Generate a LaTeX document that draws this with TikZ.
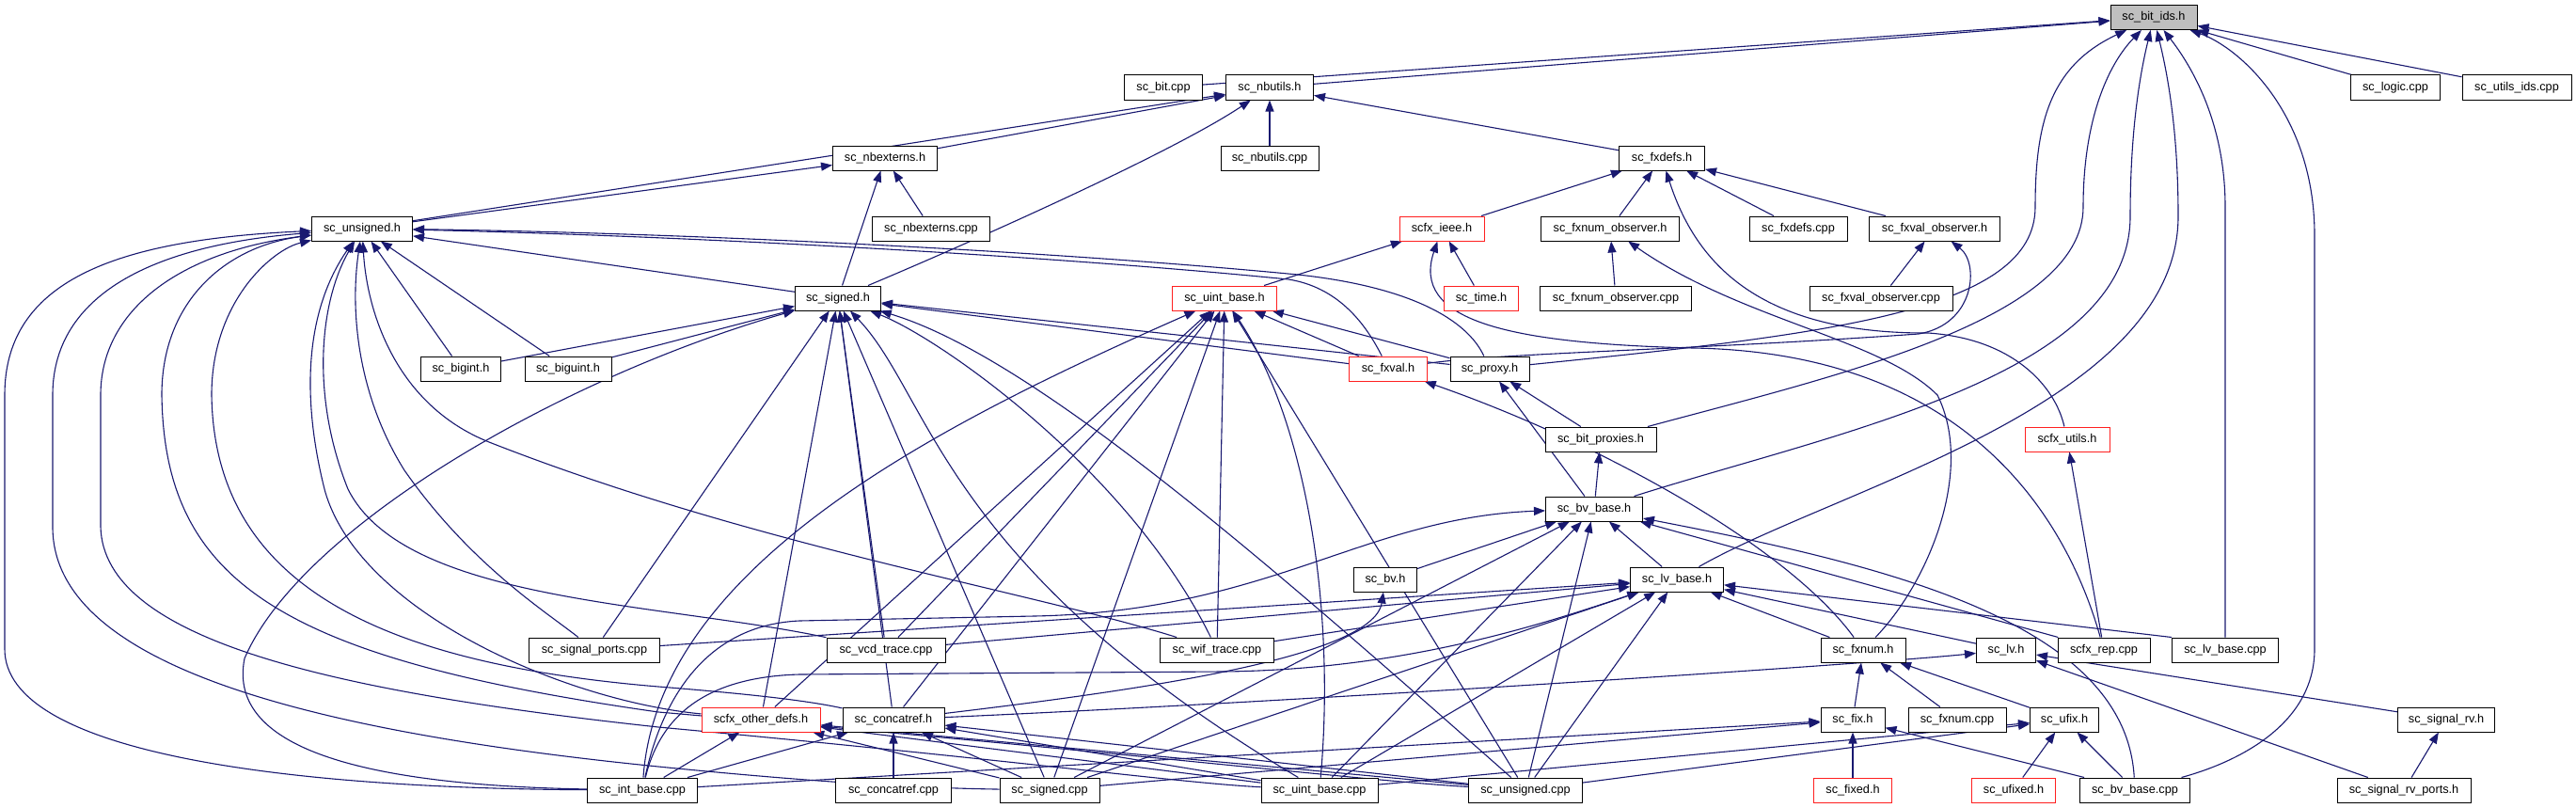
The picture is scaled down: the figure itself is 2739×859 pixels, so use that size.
\documentclass[tikz,border=0pt]{standalone}
\usepackage{fontspec}
\setmainfont{Liberation Sans}
\usetikzlibrary{arrows.meta}
\definecolor{edgeblue}{HTML}{191970}
\definecolor{boxred}{HTML}{FF2020}
\definecolor{rootgray}{HTML}{BFBFBF}
\pgfdeclarelayer{back}
\pgfdeclarelayer{bg}
\pgfsetlayers{back,bg,main}
\newcommand{\mknode}[6][box]{\node[#1, minimum width=#5] (#2) at (#3,-#4) {#6};}
\tikzset{
  box/.style={draw=black, line width=1pt, fill=white, minimum height=26, inner sep=0pt,
              font=\fontsize{12.7}{15}\selectfont},
  redbox/.style={box, draw=boxred},
  rootbox/.style={box, fill=rootgray},
  e/.style={draw=edgeblue, line width=1.1pt, {Triangle[length=12pt,width=9pt]}-},
}
\begin{document}
\begin{tikzpicture}[x=1pt,y=1pt]
\begin{pgfonlayer}{back}
\fill[white] (0,0) rectangle (2739,-859);
\end{pgfonlayer}
\useasboundingbox (0,0) rectangle (2739,-859);
% ---------------- nodes
\mknode[rootbox]{root}{2290}{18.5}{92}{sc\_bit\_ids.h}
\mknode{bitcpp}{1237}{93}{83}{sc\_bit.cpp}
\mknode{nbutilsh}{1350}{93}{93}{sc\_nbutils.h}
\mknode{logiccpp}{2547}{93}{95}{sc\_logic.cpp}
\mknode{utilsids}{2676}{93}{116}{sc\_utils\_ids.cpp}
\mknode{nbexternsh}{941}{168}{111}{sc\_nbexterns.h}
\mknode{nbutilscpp}{1350}{168}{104}{sc\_nbutils.cpp}
\mknode{fxdefsh}{1767}{168}{91}{sc\_fxdefs.h}
\mknode{unsignedh}{385}{243}{107}{sc\_unsigned.h}
\mknode{nbexternscpp}{990}{243}{125}{sc\_nbexterns.cpp}
\mknode[redbox]{scfxieee}{1533}{243}{90}{scfx\_ieee.h}
\mknode{fxnumobsh}{1712}{243}{147}{sc\_fxnum\_observer.h}
\mknode{fxdefscpp}{1912}{243}{104}{sc\_fxdefs.cpp}
\mknode{fxvalobsh}{2057}{243}{139}{sc\_fxval\_observer.h}
\mknode{signedh}{891}{317}{91}{sc\_signed.h}
\mknode[redbox]{uintbaseh}{1302}{317}{111}{sc\_uint\_base.h}
\mknode[redbox]{timeh}{1575}{317}{79}{sc\_time.h}
\mknode{fxnumobscpp}{1718}{317}{161}{sc\_fxnum\_observer.cpp}
\mknode{fxvalobscpp}{2000}{317}{152}{sc\_fxval\_observer.cpp}
\mknode{bigint}{490}{392}{85}{sc\_bigint.h}
\mknode{biguint}{604}{392}{92}{sc\_biguint.h}
\mknode[redbox]{fxvalh}{1476}{392}{83}{sc\_fxval.h}
\mknode{proxyh}{1584}{392}{84}{sc\_proxy.h}
\mknode{bitproxies}{1702}{467}{118}{sc\_bit\_proxies.h}
\mknode[redbox]{scfxutils}{2198}{467}{90}{scfx\_utils.h}
\mknode{bvbaseh}{1695}{541}{103}{sc\_bv\_base.h}
\mknode{bvh}{1473}{616}{67}{sc\_bv.h}
\mknode{lvbaseh}{1783}{616}{99}{sc\_lv\_base.h}
\mknode{signalports}{632}{691}{139}{sc\_signal\_ports.cpp}
\mknode{vcd}{942}{691}{126}{sc\_vcd\_trace.cpp}
\mknode{wif}{1294}{691}{121}{sc\_wif\_trace.cpp}
\mknode{fxnumh}{1981}{691}{90}{sc\_fxnum.h}
\mknode{lvh}{2133}{691}{63}{sc\_lv.h}
\mknode{scfxrep}{2237}{691}{98}{scfx\_rep.cpp}
\mknode{lvbasecpp}{2366}{691}{113}{sc\_lv\_base.cpp}
\mknode[redbox]{otherdefs}{809}{765}{126}{scfx\_other\_defs.h}
\mknode{concatrefh}{950}{765}{108}{sc\_concatref.h}
\mknode{fixh}{1970}{765}{68}{sc\_fix.h}
\mknode{fxnumcpp}{2081}{765}{104}{sc\_fxnum.cpp}
\mknode{ufixh}{2195}{765}{73}{sc\_ufix.h}
\mknode{signalrvh}{2601}{765}{103}{sc\_signal\_rv.h}
\mknode{intbasecpp}{683}{840}{117}{sc\_int\_base.cpp}
\mknode{concatrefcpp}{950}{840}{123}{sc\_concatref.cpp}
\mknode{signedcpp}{1116}{840}{106}{sc\_signed.cpp}
\mknode{uintbasecpp}{1403}{840}{124}{sc\_uint\_base.cpp}
\mknode{unsignedcpp}{1622}{840}{121}{sc\_unsigned.cpp}
\mknode[redbox]{fixedh}{1970}{840}{83}{sc\_fixed.h}
\mknode[redbox]{ufixedh}{2141}{840}{89}{sc\_ufixed.h}
\mknode{bvbasecpp}{2270}{840}{117}{sc\_bv\_base.cpp}
\mknode{signalrvports}{2556}{840}{142}{sc\_signal\_rv\_ports.h}
% ---------------- edges
\begin{pgfonlayer}{bg}
% sc_bit_ids.h
\draw[e] (root) -- (bitcpp);
\draw[e] (root) -- (nbutilsh);
\draw[e] (root) -- (logiccpp);
\draw[e] (root) -- (utilsids);
\draw[e] (root) .. controls (2180,-70) and (2164,-130) .. (2164,-220) .. controls (2164,-330) and (1950,-355) .. (proxyh);
\draw[e] (root) .. controls (2240,-70) and (2215,-130) .. (2215,-220) .. controls (2215,-340) and (1950,-400) .. (bitproxies);
\draw[e] (root) .. controls (2275,-80) and (2265,-140) .. (2265,-230) .. controls (2265,-400) and (1950,-460) .. (bvbaseh);
\draw[e] (root) .. controls (2305,-80) and (2316,-140) .. (2316,-230) .. controls (2316,-430) and (1950,-520) .. (lvbaseh);
\draw[e] (root) .. controls (2330,-70) and (2366,-130) .. (2366,-220) -- (lvbasecpp);
\draw[e] (root) .. controls (2380,-50) and (2461,-120) .. (2461,-250) -- (2461,-690) .. controls (2461,-770) and (2380,-810) .. (bvbasecpp);
% sc_nbutils.h
\draw[e] (nbutilsh) -- (nbexternsh);
\draw[e] (nbutilsh) -- (nbutilscpp);
\draw[e] (nbutilsh) -- (fxdefsh);
\draw[e] (nbutilsh) -- (unsignedh);
\draw[e] (nbutilsh) .. controls (1250,-160) and (1050,-250) .. (signedh);
% sc_nbexterns.h
\draw[e] (nbexternsh) -- (unsignedh);
\draw[e] (nbexternsh) -- (signedh);
\draw[e] (nbexternsh) -- (nbexternscpp);
% sc_fxdefs.h
\draw[e] (fxdefsh) -- (scfxieee);
\draw[e] (fxdefsh) -- (fxnumobsh);
\draw[e] (fxdefsh) -- (fxdefscpp);
\draw[e] (fxdefsh) -- (fxvalobsh);
\draw[e] (fxdefsh) .. controls (1800,-270) and (1860,-355) .. (2050,-354) .. controls (2140,-360) and (2185,-410) .. (scfxutils);
% scfx_ieee.h
\draw[e] (scfxieee) -- (uintbaseh);
\draw[e] (scfxieee) -- (timeh);
\draw[e] (scfxieee) .. controls (1500,-340) and (1600,-365) .. (1800,-370) .. controls (2100,-375) and (2200,-560) .. (scfxrep);
% observers
\draw[e] (fxnumobsh) -- (fxnumobscpp);
\draw[e] (fxnumobsh) .. controls (1850,-340) and (2000,-360) .. (2060,-420) .. controls (2100,-500) and (2050,-620) .. (fxnumh);
\draw[e] (fxvalobsh) -- (fxvalobscpp);
\draw[e] (fxvalobsh) .. controls (2105,-280) and (2100,-345) .. (2040,-355) .. controls (1800,-372) and (1600,-375) .. (fxvalh);
% sc_unsigned.h
\draw[e] (unsignedh) -- (signedh);
\draw[e] (unsignedh) -- (bigint);
\draw[e] (unsignedh) -- (biguint);
\draw[e] (unsignedh) .. controls (700,-250) and (1100,-270) .. (1370,-297) .. controls (1420,-305) and (1450,-340) .. (fxvalh);
\draw[e] (unsignedh) .. controls (700,-247) and (1100,-265) .. (1380,-292) .. controls (1500,-305) and (1560,-340) .. (proxyh);
\draw[e] (unsignedh) .. controls (120,-255) and (5,-300) .. (5,-420) -- (5,-690) .. controls (5,-800) and (300,-838) .. (intbasecpp);
\draw[e] (unsignedh) .. controls (150,-262) and (56,-320) .. (56,-420) -- (56,-560) .. controls (56,-700) and (300,-775) .. (700,-815) .. controls (900,-835) and (1000,-838) .. (signedcpp);
\draw[e] (unsignedh) .. controls (190,-268) and (107,-330) .. (107,-420) -- (107,-560) .. controls (110,-680) and (350,-735) .. (700,-773) .. controls (1100,-810) and (1250,-832) .. (uintbasecpp);
\draw[e] (unsignedh) .. controls (240,-262) and (172,-320) .. (172,-420) .. controls (175,-620) and (300,-700) .. (700,-757) .. controls (1200,-800) and (1450,-830) .. (unsignedcpp);
\draw[e] (unsignedh) .. controls (290,-265) and (225,-320) .. (225,-420) .. controls (228,-620) and (400,-705) .. (700,-730) .. controls (800,-738) and (860,-745) .. (concatrefh);
\draw[e] (unsignedh) .. controls (325,-330) and (320,-420) .. (345,-520) .. controls (380,-650) and (600,-745) .. (otherdefs);
\draw[e] (unsignedh) .. controls (340,-320) and (330,-420) .. (370,-520) .. controls (430,-640) and (700,-640) .. (vcd);
\draw[e] (unsignedh) .. controls (372,-330) and (380,-420) .. (430,-500) .. controls (500,-600) and (580,-650) .. (signalports);
\draw[e] (unsignedh) .. controls (390,-330) and (420,-430) .. (520,-470) .. controls (800,-580) and (1100,-630) .. (wif);
% sc_signed.h
\draw[e] (signedh) -- (bigint);
\draw[e] (signedh) -- (biguint);
\draw[e] (signedh) -- (fxvalh);
\draw[e] (signedh) -- (proxyh);
\draw[e] (signedh) -- (signalports);
\draw[e] (signedh) -- (vcd);
\draw[e] (signedh) .. controls (1000,-360) and (1200,-500) .. (wif);
\draw[e] (signedh) -- (otherdefs);
\draw[e] (signedh) -- (concatrefh);
\draw[e] (signedh) .. controls (600,-400) and (320,-560) .. (260,-700) .. controls (240,-800) and (400,-835) .. (intbasecpp);
\draw[e] (signedh) -- (signedcpp);
\draw[e] (signedh) .. controls (990,-420) and (1000,-600) .. (uintbasecpp);
\draw[e] (signedh) .. controls (1100,-380) and (1350,-600) .. (unsignedcpp);
% sc_uint_base.h
\draw[e] (uintbaseh) -- (fxvalh);
\draw[e] (uintbaseh) -- (proxyh);
\draw[e] (uintbaseh) -- (vcd);
\draw[e] (uintbaseh) -- (wif);
\draw[e] (uintbaseh) -- (otherdefs);
\draw[e] (uintbaseh) -- (concatrefh);
\draw[e] (uintbaseh) .. controls (1000,-450) and (700,-600) .. (intbasecpp);
\draw[e] (uintbaseh) -- (signedcpp);
\draw[e] (uintbaseh) .. controls (1390,-450) and (1420,-650) .. (uintbasecpp);
\draw[e] (uintbaseh) -- (unsignedcpp);
% mid headers
\draw[e] (fxvalh) .. controls (1700,-470) and (1900,-580) .. (fxnumh);
\draw[e] (proxyh) -- (bitproxies);
\draw[e] (proxyh) -- (bvbaseh);
\draw[e] (bitproxies) -- (bvbaseh);
\draw[e] (scfxutils) -- (scfxrep);
% sc_bv_base.h
\draw[e] (bvbaseh) -- (bvh);
\draw[e] (bvbaseh) -- (lvbaseh);
\draw[e] (bvbaseh) .. controls (1450,-550) and (1350,-650) .. (1100,-655) -- (850,-660) .. controls (740,-665) and (700,-760) .. (intbasecpp);
\draw[e] (bvbaseh) -- (signedcpp);
\draw[e] (bvbaseh) -- (uintbasecpp);
\draw[e] (bvbaseh) -- (unsignedcpp);
\draw[e] (bvbaseh) -- (scfxrep);
\draw[e] (bvbaseh) .. controls (2000,-600) and (2260,-660) .. (bvbasecpp);
% sc_bv.h
\draw[e] (bvh) .. controls (1460,-700) and (1200,-735) .. (concatrefh);
% sc_lv_base.h
\draw[e] (lvbaseh) -- (signalports);
\draw[e] (lvbaseh) -- (vcd);
\draw[e] (lvbaseh) -- (wif);
\draw[e] (lvbaseh) -- (fxnumh);
\draw[e] (lvbaseh) -- (lvh);
\draw[e] (lvbaseh) -- (lvbasecpp.north west);
\draw[e] (lvbaseh) .. controls (1650,-660) and (1500,-712) .. (1300,-714) -- (850,-717) .. controls (740,-720) and (700,-770) .. (intbasecpp);
\draw[e] (lvbaseh) -- (signedcpp);
\draw[e] (lvbaseh) -- (uintbasecpp);
\draw[e] (lvbaseh) -- (unsignedcpp);
% sc_fxnum.h
\draw[e] (fxnumh) -- (fixh);
\draw[e] (fxnumh) -- (fxnumcpp);
\draw[e] (fxnumh) -- (ufixh);
% sc_lv.h
\draw[e] (lvh) .. controls (2000,-705) and (1400,-745) .. (concatrefh);
\draw[e] (lvh) -- (signalrvh);
\draw[e] (lvh) -- (signalrvports);
\draw[e] (signalrvh) -- (signalrvports);
% scfx_other_defs.h
\draw[e] (otherdefs) -- (intbasecpp);
\draw[e] (otherdefs) -- (signedcpp);
\draw[e] (otherdefs) -- (uintbasecpp);
\draw[e] (otherdefs) -- (unsignedcpp);
% sc_concatref.h
\draw[e] (concatrefh) -- (concatrefcpp);
\draw[e] (concatrefh) -- (intbasecpp);
\draw[e] (concatrefh) -- (signedcpp);
\draw[e] (concatrefh) -- (uintbasecpp);
\draw[e] (concatrefh) -- (unsignedcpp);
% sc_fix.h / sc_ufix.h
\draw[e] (fixh) -- (fixedh);
\draw[e] (fixh) -- (intbasecpp);
\draw[e] (fixh) -- (signedcpp);
\draw[e] (fixh) -- (bvbasecpp);
\draw[e] (ufixh) -- (ufixedh);
\draw[e] (ufixh) -- (uintbasecpp);
\draw[e] (ufixh) -- (unsignedcpp);
\draw[e] (ufixh) -- (bvbasecpp);
\end{pgfonlayer}
\end{tikzpicture}
\end{document}
